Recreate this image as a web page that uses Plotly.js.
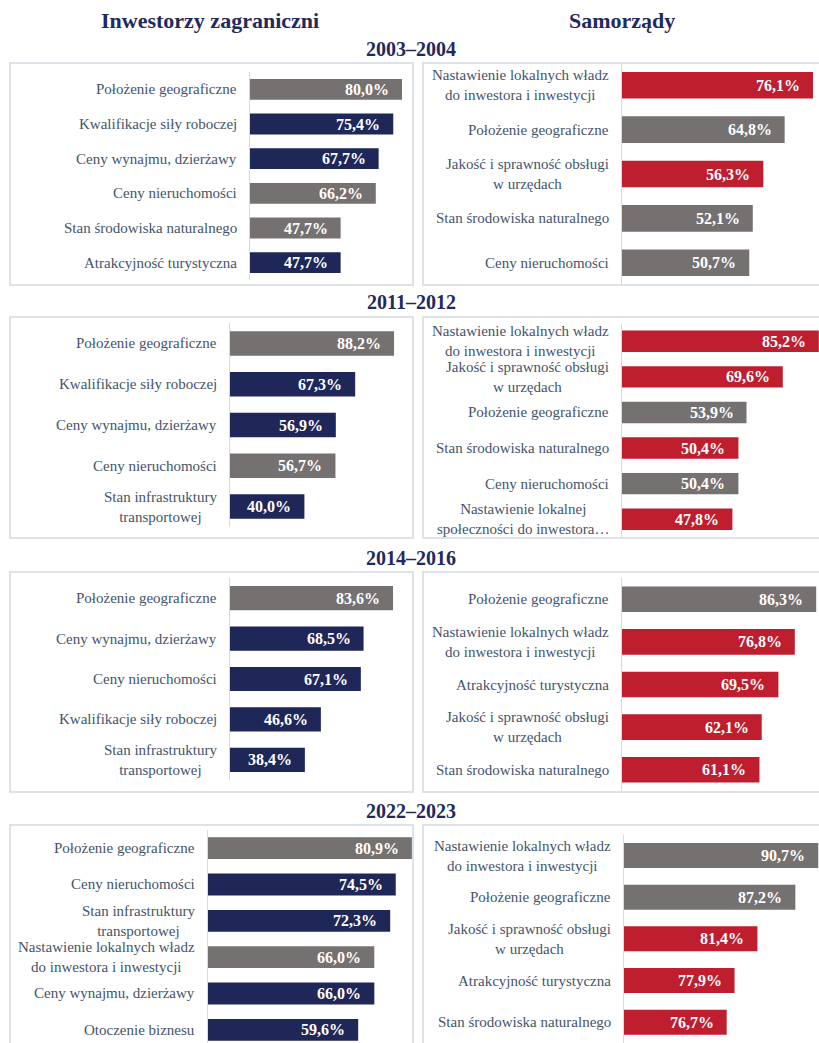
<!DOCTYPE html>
<html>
<head>
<meta charset="utf-8">
<script src="https://cdn.plot.ly/plotly-3.0.1.min.js"></script>
<style>html,body{margin:0;padding:0;background:#fff;}#chart{width:819px;height:1043px;}</style>
</head>
<body>
<div id="chart"></div>
<script>
// ---------- DATA ----------
const groupTitles = ["Inwestorzy zagraniczni", "Samorządy"];
const periods = ["2003–2004", "2011–2012", "2014–2016", "2022–2023"];

const cats03F = ["Położenie geograficzne", "Kwalifikacje siły roboczej", "Ceny wynajmu, dzierżawy", "Ceny nieruchomości", "Stan środowiska naturalnego", "Atrakcyjność turystyczna"];
const vals03F = [80.0, 75.4, 67.7, 66.2, 47.7, 47.7];
const shared03F = [1, 0, 0, 1, 1, 0];

const cats03S = ["Nastawienie lokalnych władz<br>do inwestora i inwestycji", "Położenie geograficzne", "Jakość i sprawność obsługi<br>w urzędach", "Stan środowiska naturalnego", "Ceny nieruchomości"];
const vals03S = [76.1, 64.8, 56.3, 52.1, 50.7];
const shared03S = [0, 1, 0, 1, 1];

const cats11F = ["Położenie geograficzne", "Kwalifikacje siły roboczej", "Ceny wynajmu, dzierżawy", "Ceny nieruchomości", "Stan infrastruktury<br>transportowej"];
const vals11F = [88.2, 67.3, 56.9, 56.7, 40.0];
const shared11F = [1, 0, 0, 1, 0];

const cats11S = ["Nastawienie lokalnych władz<br>do inwestora i inwestycji", "Jakość i sprawność obsługi<br>w urzędach", "Położenie geograficzne", "Stan środowiska naturalnego", "Ceny nieruchomości", "Nastawienie lokalnej<br>społeczności do inwestora…"];
const vals11S = [85.2, 69.6, 53.9, 50.4, 50.4, 47.8];
const shared11S = [0, 0, 1, 0, 1, 0];

const cats14F = ["Położenie geograficzne", "Ceny wynajmu, dzierżawy", "Ceny nieruchomości", "Kwalifikacje siły roboczej", "Stan infrastruktury<br>transportowej"];
const vals14F = [83.6, 68.5, 67.1, 46.6, 38.4];
const shared14F = [1, 0, 0, 0, 0];

const cats14S = ["Położenie geograficzne", "Nastawienie lokalnych władz<br>do inwestora i inwestycji", "Atrakcyjność turystyczna", "Jakość i sprawność obsługi<br>w urzędach", "Stan środowiska naturalnego"];
const vals14S = [86.3, 76.8, 69.5, 62.1, 61.1];
const shared14S = [1, 0, 0, 0, 0];

const cats22F = ["Położenie geograficzne", "Ceny nieruchomości", "Stan infrastruktury<br>transportowej", "Nastawienie lokalnych władz<br>do inwestora i inwestycji", "Ceny wynajmu, dzierżawy", "Otoczenie biznesu"];
const vals22F = [80.9, 74.5, 72.3, 66.0, 66.0, 59.6];
const shared22F = [1, 0, 0, 1, 0, 0];

const cats22S = ["Nastawienie lokalnych władz<br>do inwestora i inwestycji", "Położenie geograficzne", "Jakość i sprawność obsługi<br>w urzędach", "Atrakcyjność turystyczna", "Stan środowiska naturalnego"];
const vals22S = [90.7, 87.2, 81.4, 77.9, 76.7];
const shared22S = [1, 1, 0, 0, 0];

// ---------- STYLE / GEOMETRY ----------
const W = 819, H = 1043;
const NAVY = "#1F2759", RED = "#BE1E2D", GRAY = "#767171";
const TITLE_C = "#1F2A5E", LABEL_C = "#44546A", BOX_C = "#DEE3EA", AXIS_C = "#D5DBE3";
const FONT = "Liberation Serif, Times New Roman, serif";

// px geometry: axis x, right edge, px per unit, x-range start, top y, bottom y
const panels = [
  {c: cats03F, v: vals03F, s: shared03F, side: 0, ax: 250, rx: 413, k: 1.90, x0: 0,  top: 72,    bot: 280},
  {c: cats03S, v: vals03S, s: shared03S, side: 1, ax: 622, rx: 819, k: 2.51, x0: 0,  top: 63,    bot: 285},
  {c: cats11F, v: vals11F, s: shared11F, side: 0, ax: 230, rx: 413, k: 1.86, x0: 0,  top: 323,   bot: 527},
  {c: cats11S, v: vals11S, s: shared11S, side: 1, ax: 622, rx: 819, k: 2.31, x0: 0,  top: 323.5, bot: 537},
  {c: cats14F, v: vals14F, s: shared14F, side: 0, ax: 230, rx: 413, k: 1.95, x0: 0,  top: 578,   bot: 780},
  {c: cats14S, v: vals14S, s: shared14S, side: 1, ax: 622, rx: 819, k: 2.25, x0: 0,  top: 578,   bot: 791},
  {c: cats22F, v: vals22F, s: shared22F, side: 0, ax: 208, rx: 413, k: 2.52, x0: 0,  top: 830,   bot: 1043, step: 36.33},
  {c: cats22S, v: vals22S, s: shared22S, side: 1, ax: 624, rx: 819, k: 6.54, x0: 61, top: 834.7, bot: 1043}
];

const boxes = [
  [10, 63, 413, 285], [423, 63, 830, 285],
  [10, 317, 413, 538], [423, 317, 830, 538],
  [10, 572, 413, 792], [423, 572, 830, 792],
  [10, 825, 413, 1060], [423, 825, 830, 1060]
];
const periodY = [49, 302, 558, 811];

const data = [];
const layout = {
  width: W, height: H,
  margin: {l: 0, r: 0, t: 0, b: 0},
  paper_bgcolor: "#fff", plot_bgcolor: "rgba(0,0,0,0)",
  showlegend: false, bargap: 0.4,
  font: {family: FONT},
  annotations: [], shapes: []
};

panels.forEach((p, i) => {
  const n = i + 1;
  const xa = n === 1 ? "x" : "x" + n;
  const ya = n === 1 ? "y" : "y" + n;
  const xKey = n === 1 ? "xaxis" : "xaxis" + n;
  const yKey = n === 1 ? "yaxis" : "yaxis" + n;
  const step = p.step || (p.bot - p.top) / p.c.length;
  const colors = p.s.map(f => f ? GRAY : (p.side === 0 ? NAVY : RED));

  data.push({
    type: "bar", orientation: "h",
    x: p.v, y: p.c, xaxis: xa, yaxis: ya,
    marker: {color: colors, line: {width: 0}},
    hoverinfo: "skip", cliponaxis: false
  });

  layout[xKey] = {
    domain: [p.ax / W, p.rx / W],
    range: [p.x0, p.x0 + (p.rx - p.ax) / p.k],
    anchor: ya, showgrid: false, zeroline: false, showline: false,
    showticklabels: false, ticks: "", fixedrange: true
  };
  const spanCats = (p.bot - p.top) / step;
  layout[yKey] = {
    domain: [1 - p.bot / H, 1 - p.top / H],
    type: "category",
    range: [spanCats - 0.5, -0.5],
    anchor: xa, showgrid: false, zeroline: false,
    showline: true, linecolor: AXIS_C, linewidth: 1,
    showticklabels: false, ticks: "", fixedrange: true
  };

  p.c.forEach((cat, j) => {
    layout.annotations.push({
      xref: xa + " domain", yref: ya, x: 0, y: cat,
      xanchor: "right", yanchor: "middle", xshift: -11, align: "center",
      text: cat, showarrow: false,
      font: {family: FONT, size: 15, color: LABEL_C}
    });
    layout.annotations.push({
      xref: xa, yref: ya, x: p.v[j], y: cat,
      xanchor: "right", yanchor: "middle", xshift: -11,
      text: "<b>" + p.v[j].toFixed(1).replace(".", ",") + "%</b>", showarrow: false,
      font: {family: FONT, size: 16, color: "#FFFFFF"}
    });
  });
});

boxes.forEach(b => {
  layout.shapes.push({
    type: "rect", xref: "paper", yref: "paper", layer: "below",
    x0: b[0] / W, x1: b[2] / W, y0: 1 - b[3] / H, y1: 1 - b[1] / H,
    line: {color: BOX_C, width: 2}, fillcolor: "rgba(0,0,0,0)"
  });
});

layout.annotations.push({
  xref: "paper", yref: "paper", x: 210 / W, y: 1 - 21 / H, xanchor: "center", yanchor: "middle",
  text: "<b>" + groupTitles[0] + "</b>", showarrow: false,
  font: {family: FONT, size: 22, color: TITLE_C}
});
layout.annotations.push({
  xref: "paper", yref: "paper", x: 622 / W, y: 1 - 21 / H, xanchor: "center", yanchor: "middle",
  text: "<b>" + groupTitles[1] + "</b>", showarrow: false,
  font: {family: FONT, size: 22, color: TITLE_C}
});
periods.forEach((t, i) => {
  layout.annotations.push({
    xref: "paper", yref: "paper", x: 411 / W, y: 1 - periodY[i] / H, xanchor: "center", yanchor: "middle",
    text: "<b>" + t + "</b>", showarrow: false,
    font: {family: FONT, size: 20, color: TITLE_C}
  });
});

Plotly.newPlot("chart", data, layout, {displayModeBar: false, staticPlot: true});
</script>
</body>
</html>
